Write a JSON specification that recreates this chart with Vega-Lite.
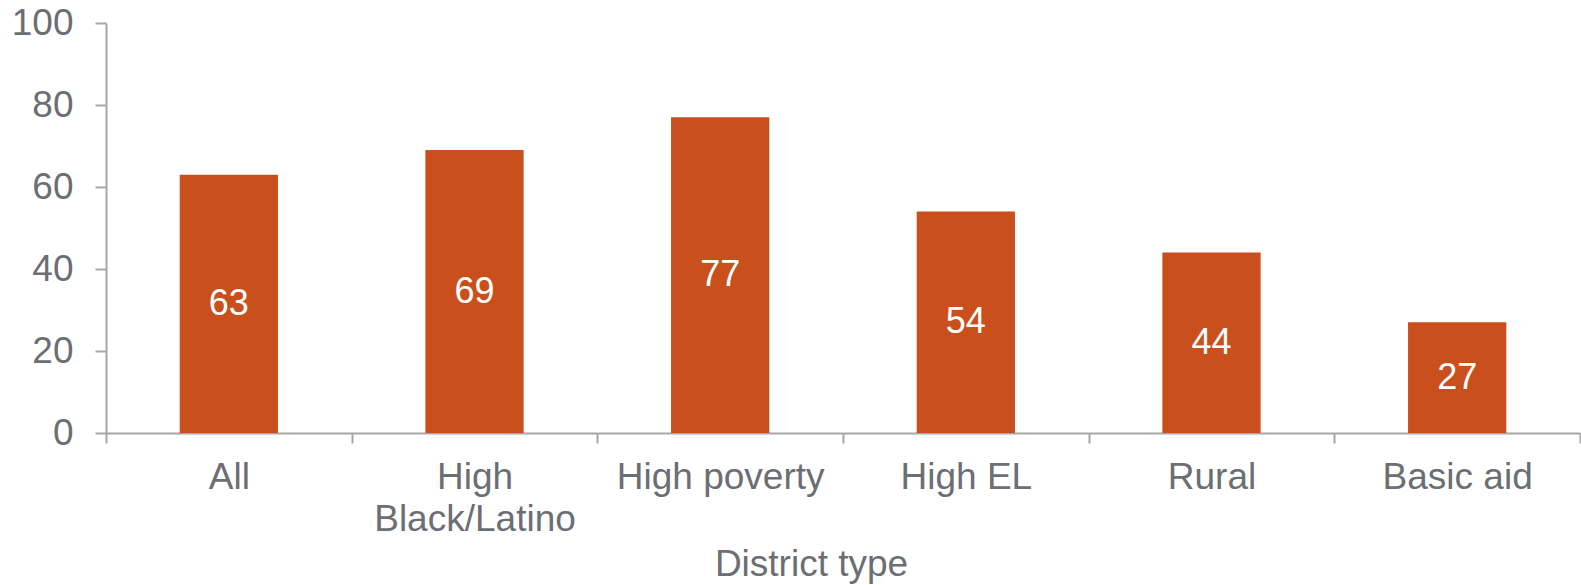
{
  "$schema": "https://vega.github.io/schema/vega-lite/v6.json",
  "width": 1474,
  "height": 410,
  "autosize": {"type": "none"},
  "padding": {"left": 106, "top": 23, "right": 1, "bottom": 152},
  "background": "white",
  "config": {
    "view": {"stroke": null},
    "font": "Liberation Sans"
  },
  "data": {
    "values": [
      {"district": "All", "value": 63},
      {"district": "High Black/Latino", "value": 69},
      {"district": "High poverty", "value": 77},
      {"district": "High EL", "value": 54},
      {"district": "Rural", "value": 44},
      {"district": "Basic aid", "value": 27}
    ]
  },
  "encoding": {
    "x": {
      "field": "district",
      "type": "nominal",
      "sort": null,
      "scale": {"paddingInner": 0, "paddingOuter": 0},
      "axis": {
        "title": "District type",
        "titleFont": "Liberation Sans",
        "titleFontSize": 37,
        "titleFontWeight": "normal",
        "titleColor": "#6B6E73",
        "titleX": 705,
        "titlePadding": 9,
        "labelFont": "Liberation Sans",
        "labelFontSize": 37,
        "labelColor": "#6B6E73",
        "labelAngle": 0,
        "labelPadding": 16,
        "labelLimit": 0,
        "labelLineHeight": 42,
        "labelExpr": "datum.label == 'High Black/Latino' ? ['High', 'Black/Latino'] : datum.label",
        "tickBand": "extent",
        "tickSize": 10,
        "tickColor": "#A6A6A6",
        "tickWidth": 2,
        "domainColor": "#A6A6A6",
        "domainWidth": 2,
        "grid": false
      }
    }
  },
  "layer": [
    {
      "mark": {"type": "bar", "color": "#C94F1C", "width": {"band": 0.4}},
      "encoding": {
        "y": {
          "field": "value",
          "type": "quantitative",
          "scale": {"domain": [0, 100], "nice": false},
          "axis": {
            "title": null,
            "values": [0, 20, 40, 60, 80, 100],
            "labelFont": "Liberation Sans",
            "labelFontSize": 37,
            "labelColor": "#6B6E73",
            "labelPadding": 22,
            "tickSize": 11,
            "tickColor": "#A6A6A6",
            "tickWidth": 2,
            "domainColor": "#A6A6A6",
            "domainWidth": 2,
            "grid": false
          }
        }
      }
    },
    {
      "mark": {"type": "text", "color": "white", "fontSize": 36, "font": "Liberation Sans", "baseline": "middle", "align": "center"},
      "encoding": {
        "y": {
          "field": "value",
          "type": "quantitative",
          "scale": {"domain": [0, 200], "nice": false},
          "axis": null
        },
        "text": {"field": "value", "type": "quantitative"}
      }
    }
  ],
  "resolve": {"scale": {"y": "independent"}}
}
